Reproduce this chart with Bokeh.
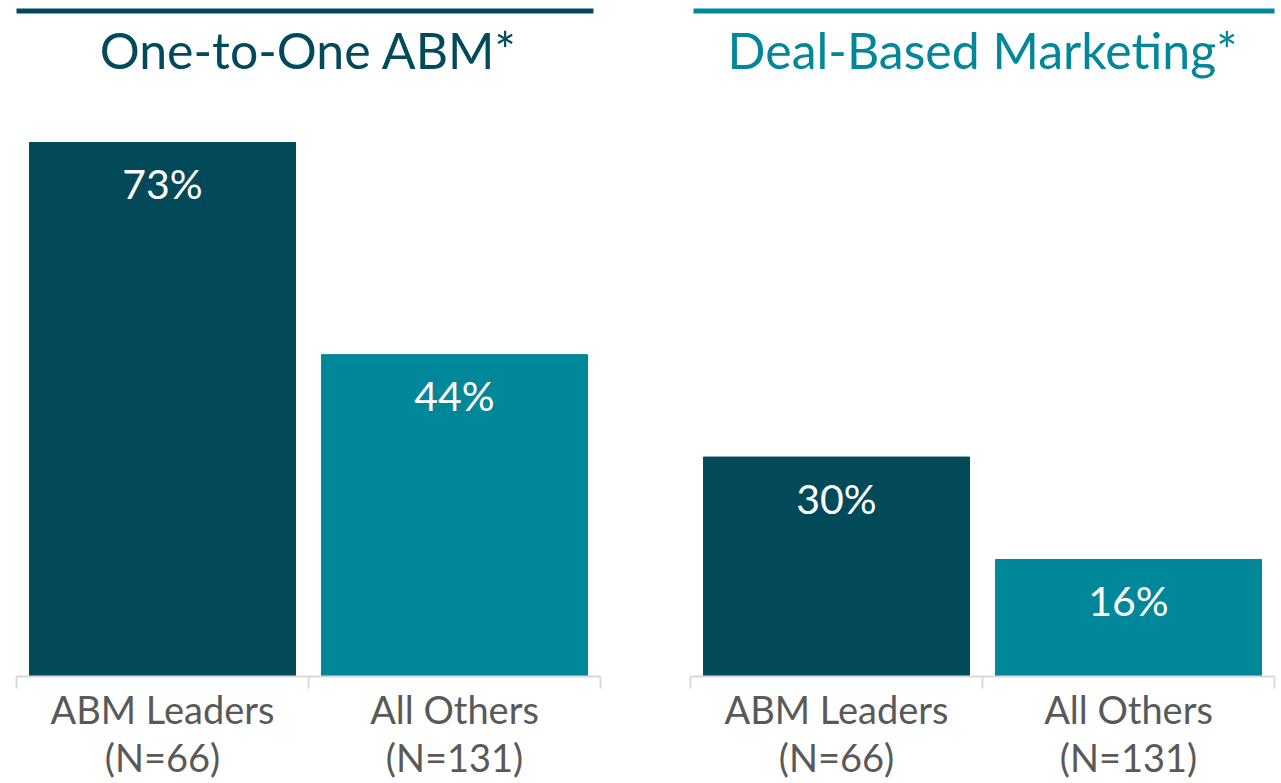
from bokeh.plotting import figure
from bokeh.layouts import row
from bokeh.models import Range1d, FixedTicker, BoxAnnotation, Label, ColumnDataSource
from bokeh.core.properties import value
from bokeh.embed import file_html
from bokeh.resources import INLINE
import numpy as np

# ---- data ----
panel_titles = ["One-to-One ABM*", "Deal-Based Marketing*"]
groups = ["ABM Leaders\n(N=66)", "All Others\n(N=131)"]
one_to_one = [73, 44]
deal_based = [30, 16]
bar_colors = ["#024A5A", "#01879A"]
title_colors = ["#024A5A", "#01879A"]

FONT = "Lato"
SCALE = 7.315          # px per percentage point
FRAME_H = 676
Y_MAX = FRAME_H / SCALE
FIG_H = 783


def make_panel(title, values, title_color, width, left, right, line_x0, line_x1):
    n = len(groups)
    p = figure(width=width, height=FIG_H,
               x_range=Range1d(0, n), y_range=Range1d(0, Y_MAX),
               output_backend="svg", toolbar_location=None,
               min_border_left=left, min_border_right=right,
               min_border_top=0, min_border_bottom=FIG_H - FRAME_H)
    p.outline_line_color = None
    p.background_fill_color = "white"
    p.border_fill_color = "white"
    p.grid.visible = False
    p.yaxis.visible = False

    xs = np.arange(n) + 0.5
    src = ColumnDataSource(dict(x=xs, top=values, color=bar_colors,
                                label=[f"{v}%" for v in values]))
    p.vbar(x="x", top="top", bottom=0, width=0.911, color="color", source=src)
    p.text(x="x", y="top", text="label", source=src, text_color="white",
           text_font=value(FONT), text_font_size="41px", text_align="center",
           text_baseline="alphabetic", y_offset=41)

    ax = p.xaxis[0]
    ax.ticker = FixedTicker(ticks=list(xs), minor_ticks=list(range(n + 1)))
    ax.major_label_overrides = {float(x): g for x, g in zip(xs, groups)}
    ax.axis_line_color = "#d9d9d9"
    ax.axis_line_width = 2
    ax.major_tick_line_color = None
    ax.major_tick_out = 0
    ax.major_tick_in = 0
    ax.minor_tick_line_color = "#d9d9d9"
    ax.minor_tick_line_width = 2
    ax.minor_tick_out = 12
    ax.minor_tick_in = 0
    ax.major_label_text_font = FONT
    ax.major_label_text_font_size = "38px"
    ax.major_label_text_line_height = 1.06
    ax.major_label_text_color = "#595959"
    ax.major_label_standoff = -3

    p.add_layout(BoxAnnotation(left=line_x0, right=line_x1, bottom=90.64, top=91.32,
                               fill_color=title_color, fill_alpha=1, line_alpha=0))
    p.add_layout(Label(x=n / 2, y=85.6, text=title, text_align="center",
                       text_baseline="alphabetic", text_font=FONT,
                       text_font_size="50px", text_color=title_color))
    return p


p1 = make_panel(panel_titles[0], one_to_one, title_colors[0], 640, 16, 40, -0.01, 1.976)
p2 = make_panel(panel_titles[1], deal_based, title_colors[1], 641, 50, 7, 0.0103, 2.02)

layout = row(p1, p2)
open("out.html", "w").write(file_html(layout, INLINE))
